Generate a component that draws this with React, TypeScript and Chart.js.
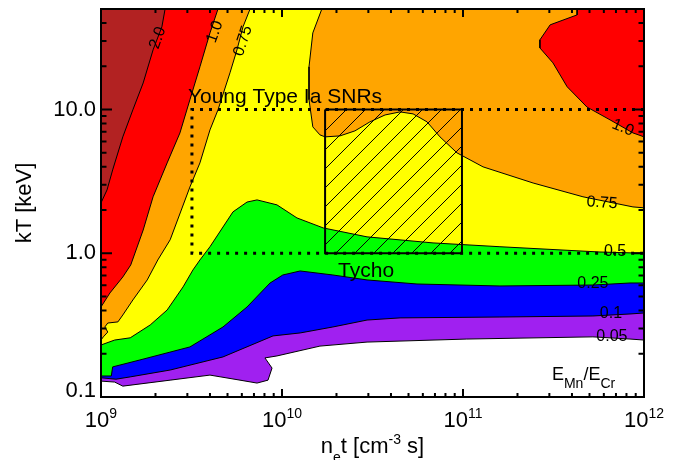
import React, { useEffect, useRef } from "react";
import { Chart, registerables } from "chart.js";

Chart.register(...registerables);

const FONT = '"Liberation Sans", Arial, Helvetica, sans-serif';

// Axis ranges
const NT_RANGE = [1e9, 1e12];
const KT_RANGE = [0.1, 50];

// Tick values and labels
const X_MAJOR = [1e9, 1e10, 1e11, 1e12];
const X_EXPONENTS = ["9", "10", "11", "12"];
const Y_MAJOR = [0.1, 1, 10];
const Y_LABELS = ["0.1", "1.0", "10.0"];

// Contour levels (E_Mn/E_Cr) and fill colours
const LEVEL_COLORS = {
  l005: "#A020F0",
  l01: "#0000FF",
  l025: "#00FF00",
  l05: "#FFFF00",
  l075: "#FFA500",
  l1: "#FF0000",
  l2: "#B22222",
};

// Regions where E_Mn/E_Cr >= level, as [n_e t (cm^-3 s), kT (keV)]
const REGION_005: [number, number][] = [
  [1e9, 50], [1e9, 0.129], [1.19e9, 0.127], [1.32e9, 0.119], [2.41e9, 0.131],
  [4.0e9, 0.142], [5.86e9, 0.131], [7.28e9, 0.125], [8.37e9, 0.131], [8.81e9, 0.159],
  [8.05e9, 0.187], [9.38e9, 0.193], [1.62e10, 0.226], [2.95e10, 0.241], [1.05e11, 0.253],
  [5.22e11, 0.262], [8.37e11, 0.253], [1e12, 0.249], [1e12, 50],
];
const REGION_01: [number, number][] = [
  [1e9, 50], [1e9, 0.136], [1.21e9, 0.133], [1.45e9, 0.138], [2.41e9, 0.154],
  [4.72e9, 0.19], [8.92e9, 0.266], [1.26e10, 0.279], [1.91e10, 0.307], [2.95e10, 0.343],
  [4.49e10, 0.355], [1.6e11, 0.36], [5.22e11, 0.366], [8.37e11, 0.378], [1e12, 0.384], [1e12, 50],
];
const REGION_025: [number, number][] = [
  [1e9, 50], [1e9, 0.14], [1.14e9, 0.14], [1.16e9, 0.162], [1.64e9, 0.181],
  [3.1e9, 0.223], [4.72e9, 0.307], [6.41e9, 0.423], [8.59e9, 0.621], [1.01e10, 0.706],
  [1.26e10, 0.753], [1.91e10, 0.706], [2.95e10, 0.652], [5.57e10, 0.611], [1.6e11, 0.592],
  [5.22e11, 0.601], [8.37e11, 0.621], [1e12, 0.621], [1e12, 50],
];
const REGION_05: [number, number][] = [
  [1e9, 50], [1e9, 0.23], [1.19e9, 0.249], [1.45e9, 0.258], [1.87e9, 0.317],
  [2.32e9, 0.403], [2.84e9, 0.583], [3.22e9, 0.765], [3.52e9, 0.898], [4.0e9, 1.11],
  [5.36e9, 1.94], [6.41e9, 2.27], [7.28e9, 2.35], [9.38e9, 2.17], [1.21e10, 1.76],
  [1.69e10, 1.5], [2.95e10, 1.3], [6.83e10, 1.18], [1.6e11, 1.11], [5.71e11, 1.02],
  [8.69e11, 1.005], [1e12, 1.005], [1e12, 50],
];
const REGION_075_LEFT: [number, number][] = [
  [1e9, 50], [1e9, 0.249], [1.03e9, 0.262], [1.09e9, 0.283], [1.05e9, 0.307],
  [1.09e9, 0.327], [1.24e9, 0.333], [1.32e9, 0.372], [1.5e9, 0.473], [1.8e9, 0.652],
  [2.06e9, 0.898], [2.41e9, 1.24], [3.1e9, 2.89], [3.52e9, 4.25], [4.0e9, 7.21],
  [4.43e9, 9.94], [5.16e9, 18], [5.64e9, 26], [6.09e9, 37.6], [6.66e9, 50],
];
const REGION_075_RIGHT: [number, number][] = [
  [1.66e10, 50], [1.48e10, 34.1], [1.41e10, 19.8], [1.41e10, 11.7], [1.48e10, 7.57],
  [1.62e10, 6.66], [1.73e10, 6.45], [2.09e10, 6.55], [2.53e10, 7.1], [3.06e10, 8.2],
  [3.71e10, 9.16], [4.49e10, 9.62], [5.3e10, 9.32], [6.33e10, 8.2], [7.46e10, 6.45],
  [9.27e10, 4.99], [1.29e11, 3.99], [2.44e11, 3.08], [4.6e11, 2.47], [8.69e11, 2.1],
  [1e12, 2.07], [1e12, 50],
];
const REGION_1_LEFT: [number, number][] = [
  [1e9, 50], [1e9, 0.423], [1.12e9, 0.529], [1.32e9, 0.684], [1.46e9, 0.829],
  [1.71e9, 1.45], [1.94e9, 2.47], [2.32e9, 4.25], [2.73e9, 6.87], [3.1e9, 11.7],
  [3.52e9, 19.8], [4.0e9, 34.1], [4.43e9, 50],
];
const REGION_1_RIGHT: [number, number][] = [
  [4.27e11, 50], [4.27e11, 45.5], [3.03e11, 38.8], [2.66e11, 30.5], [2.66e11, 26.8],
  [3.14e11, 21.1], [3.76e11, 14.4], [4.84e11, 10.4], [6.49e11, 8.47], [8.69e11, 6.87],
  [1e12, 6.45], [1e12, 50],
];
const REGION_2: [number, number][] = [
  [1e9, 50], [1e9, 2.24], [1.08e9, 2.76], [1.16e9, 3.8], [1.32e9, 6.45],
  [1.5e9, 9.94], [1.71e9, 15.3], [1.94e9, 26], [2.17e9, 37.6], [2.26e9, 50],
];

// Tycho box and young Type Ia SNR range
const TYCHO_NT = [1.73e10, 9.87e10];
const TYCHO_KT = [1.0, 10.0];
const YOUNG_NT = [3.18e9, 1e12];
const YOUNG_KT = [1.0, 10.0];

// Contour labels: text, n_e t, kT, rotation (deg)
const CONTOUR_LABELS: [string, number, number, number][] = [
  ["2.0", 2.06e9, 31.5, -71],
  ["1.0", 4.26e9, 34.7, -70],
  ["0.75", 6.09e9, 30.0, -72],
  ["1.0", 7.65e11, 7.45, 22],
  ["0.75", 5.86e11, 2.24, 4],
  ["0.5", 6.92e11, 1.02, 0],
  ["0.25", 5.22e11, 0.611, 0],
  ["0.1", 6.57e11, 0.378, 0],
  ["0.05", 6.65e11, 0.262, 0],
];

const YOUNG_TEXT = "Young Type Ia SNRs";
const YOUNG_TEXT_POS = [3.02e9, 11.1];
const TYCHO_TEXT = "Tycho";
const TYCHO_TEXT_POS = [2.04e10, 0.684];
const RATIO_TEXT_POS = [3.1e11, 0.131];

const toXY = (pts: [number, number][]) => pts.map(([x, y]) => ({ x, y }));

function region(pts: [number, number][], color: string, order: number) {
  return {
    data: toXY(pts),
    showLine: true,
    fill: "shape",
    backgroundColor: color,
    borderColor: "#000",
    borderWidth: 1,
    pointRadius: 0,
    pointHoverRadius: 0,
    tension: 0,
    order,
  };
}

const overlayPlugin = {
  id: "overlay",
  afterDatasetsDraw(chart: any) {
    const { ctx, chartArea: a } = chart;
    const xs = chart.scales.x;
    const ys = chart.scales.y;
    const px = (v: number) => xs.getPixelForValue(v);
    const py = (v: number) => ys.getPixelForValue(v);
    ctx.save();
    ctx.fillStyle = "#000";
    ctx.strokeStyle = "#000";

    // contour labels
    ctx.font = `16px ${FONT}`;
    ctx.textAlign = "center";
    ctx.textBaseline = "middle";
    for (const [t, nt, kt, ang] of CONTOUR_LABELS) {
      ctx.save();
      ctx.translate(px(nt), py(kt));
      ctx.rotate((ang * Math.PI) / 180);
      ctx.fillText(t, 0, 0);
      ctx.restore();
    }

    // annotations
    ctx.textAlign = "left";
    ctx.textBaseline = "alphabetic";
    ctx.font = `21px ${FONT}`;
    ctx.fillText(YOUNG_TEXT, px(YOUNG_TEXT_POS[0]), py(YOUNG_TEXT_POS[1]));
    ctx.fillText(TYCHO_TEXT, px(TYCHO_TEXT_POS[0]), py(TYCHO_TEXT_POS[1]));

    // E_Mn / E_Cr
    {
      let cx = px(RATIO_TEXT_POS[0]);
      const by = py(RATIO_TEXT_POS[1]);
      const parts: [string, number, number][] = [
        ["E", 18, 0], ["Mn", 14, 8], ["/", 18, 0], ["E", 18, 0], ["Cr", 14, 8],
      ];
      for (const [t, s, dy] of parts) {
        ctx.font = `${s}px ${FONT}`;
        ctx.fillText(t, cx, by + dy);
        cx += ctx.measureText(t).width;
      }
    }

    // frame
    ctx.lineWidth = 2;
    ctx.strokeRect(a.left, a.top, a.right - a.left, a.bottom - a.top);

    // ticks
    ctx.lineWidth = 2;
    ctx.beginPath();
    for (let d = 0; d < X_MAJOR.length; d++) {
      const dec = X_MAJOR[d];
      for (let m = 1; m <= 9; m++) {
        const v = dec * m;
        if (v > NT_RANGE[1]) break;
        const len = m === 1 ? 8 : 4;
        const p = px(v);
        ctx.moveTo(p, a.bottom);
        ctx.lineTo(p, a.bottom - len);
        ctx.moveTo(p, a.top);
        ctx.lineTo(p, a.top + len);
      }
    }
    for (let d = 0; d < Y_MAJOR.length; d++) {
      const dec = Y_MAJOR[d];
      for (let m = 1; m <= 9; m++) {
        const v = dec * m;
        if (v >= KT_RANGE[1]) break;
        const len = m === 1 ? 11 : 5.5;
        const p = py(v);
        ctx.moveTo(a.left, p);
        ctx.lineTo(a.left + len, p);
        ctx.moveTo(a.right, p);
        ctx.lineTo(a.right - len, p);
      }
    }
    ctx.stroke();

    // y tick labels
    ctx.font = `22px ${FONT}`;
    ctx.textAlign = "right";
    ctx.textBaseline = "middle";
    Y_MAJOR.forEach((v, i) => {
      const p = Math.min(py(v), a.bottom - 6);
      ctx.fillText(Y_LABELS[i], a.left - 5, p);
    });

    // x tick labels (10^n)
    ctx.textAlign = "left";
    ctx.textBaseline = "alphabetic";
    X_MAJOR.forEach((v, i) => {
      ctx.font = `22px ${FONT}`;
      const w1 = ctx.measureText("10").width;
      ctx.font = `14px ${FONT}`;
      const w2 = ctx.measureText(X_EXPONENTS[i]).width;
      const start = px(v) - (w1 + w2) / 2;
      ctx.font = `22px ${FONT}`;
      ctx.fillText("10", start, a.bottom + 30);
      ctx.font = `14px ${FONT}`;
      ctx.fillText(X_EXPONENTS[i], start + w1, a.bottom + 21);
    });

    // y axis title
    ctx.save();
    ctx.font = `22px ${FONT}`;
    ctx.textAlign = "center";
    ctx.textBaseline = "middle";
    ctx.translate(25, (a.top + a.bottom) / 2);
    ctx.rotate(-Math.PI / 2);
    ctx.fillText("kT [keV]", 0, 0);
    ctx.restore();

    // x axis title: n_e t [cm^-3 s]
    {
      const parts: [string, number, number][] = [
        ["n", 22, 0], ["e", 14, 9], ["t [cm", 22, 0], ["-3", 14, -9], [" s]", 22, 0],
      ];
      let total = 0;
      for (const [t, s] of parts) {
        ctx.font = `${s}px ${FONT}`;
        total += ctx.measureText(t).width;
      }
      let cx = (a.left + a.right) / 2 - total / 2;
      const by = a.bottom + 56;
      for (const [t, s, dy] of parts) {
        ctx.font = `${s}px ${FONT}`;
        ctx.fillText(t, cx, by + dy);
        cx += ctx.measureText(t).width;
      }
    }
    ctx.restore();
  },
};

export default function App() {
  const ref = useRef<HTMLCanvasElement>(null);
  useEffect(() => {
    const canvas = ref.current!;
    const hatchCanvas = document.createElement("canvas");
    hatchCanvas.width = 19;
    hatchCanvas.height = 19;
    const hctx = hatchCanvas.getContext("2d")!;
    hctx.strokeStyle = "#000";
    hctx.lineWidth = 1;
    hctx.beginPath();
    hctx.moveTo(-2, 21);
    hctx.lineTo(21, -2);
    hctx.moveTo(-2, 2);
    hctx.lineTo(2, -2);
    hctx.moveTo(17, 21);
    hctx.lineTo(21, 17);
    hctx.stroke();
    const hatch = canvas.getContext("2d")!.createPattern(hatchCanvas, "repeat");

    const datasets: any[] = [
      region(REGION_005, LEVEL_COLORS.l005, 100),
      region(REGION_01, LEVEL_COLORS.l01, 90),
      region(REGION_025, LEVEL_COLORS.l025, 80),
      region(REGION_05, LEVEL_COLORS.l05, 70),
      region(REGION_075_LEFT, LEVEL_COLORS.l075, 60),
      region(REGION_075_RIGHT, LEVEL_COLORS.l075, 59),
      region(REGION_1_LEFT, LEVEL_COLORS.l1, 50),
      region(REGION_1_RIGHT, LEVEL_COLORS.l1, 49),
      region(REGION_2, LEVEL_COLORS.l2, 40),
      {
        data: [
          { x: YOUNG_NT[1], y: YOUNG_KT[1] },
          { x: YOUNG_NT[0], y: YOUNG_KT[1] },
          { x: YOUNG_NT[0], y: YOUNG_KT[0] },
          { x: YOUNG_NT[1], y: YOUNG_KT[0] },
        ],
        showLine: true,
        fill: false,
        borderColor: "#000",
        borderWidth: 3,
        borderDash: [3, 6],
        borderCapStyle: "butt",
        pointRadius: 0,
        tension: 0,
        order: 20,
      },
      {
        data: [
          { x: TYCHO_NT[0], y: TYCHO_KT[1] },
          { x: TYCHO_NT[1], y: TYCHO_KT[1] },
          { x: TYCHO_NT[1], y: TYCHO_KT[0] },
          { x: TYCHO_NT[0], y: TYCHO_KT[0] },
          { x: TYCHO_NT[0], y: TYCHO_KT[1] },
        ],
        showLine: true,
        fill: "shape",
        backgroundColor: hatch,
        borderColor: "#000",
        borderWidth: 2,
        pointRadius: 0,
        tension: 0,
        order: 10,
      },
    ];

    const chart = new Chart(canvas, {
      type: "scatter",
      data: { datasets },
      options: {
        animation: false,
        responsive: false,
        devicePixelRatio: 1,
        events: [],
        layout: { padding: { left: 101, top: 9, right: 39, bottom: 63 } },
        scales: {
          x: { type: "logarithmic", min: NT_RANGE[0], max: NT_RANGE[1], display: false },
          y: { type: "logarithmic", min: KT_RANGE[0], max: KT_RANGE[1], display: false },
        },
        plugins: { legend: { display: false }, tooltip: { enabled: false } },
      } as any,
      plugins: [overlayPlugin],
    });
    return () => chart.destroy();
  }, []);

  return (
    <div style={{ position: "absolute", left: 0, top: 0, width: 683, height: 460 }}>
      <canvas ref={ref} width={683} height={460} style={{ display: "block" }} />
    </div>
  );
}
